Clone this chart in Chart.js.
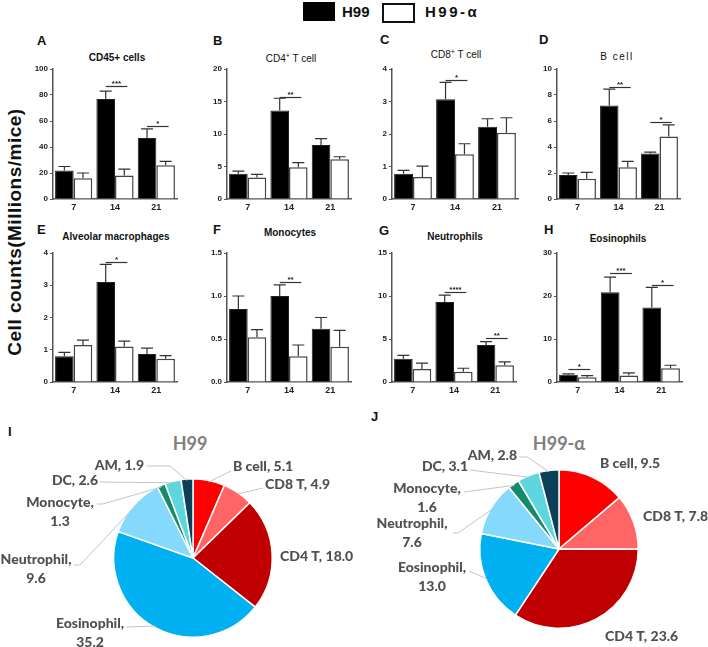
<!DOCTYPE html>
<html>
<head>
<meta charset="utf-8">
<script src="https://cdn.jsdelivr.net/npm/chart.js@4.4.0/dist/chart.umd.min.js"></script>
<style>
  body { margin:0; background:#fff; }
  #wrap { position:relative; width:708px; height:647px; overflow:hidden; font-family:Arial, "Liberation Sans", sans-serif; }
  canvas { position:absolute; }
  .t { position:absolute; white-space:nowrap; color:#111; }
  .let { font-weight:bold; font-size:13px; }
  .ttl { font-size:10px; transform:translateX(-50%); }
  .b { font-weight:bold; }
</style>
</head>
<body>
<div id="wrap">
  <!-- legenda -->
  <div style="position:absolute;left:303px;top:2px;width:32px;height:19px;background:#000"></div>
  <div class="t b" style="left:342px;top:3px;font-size:15px">H99</div>
  <div style="position:absolute;left:382px;top:3px;width:29px;height:16px;border:2px solid #111;background:#fff"></div>
  <div class="t b" style="left:425px;top:3px;font-size:15px;letter-spacing:2.5px">H99-α</div>

  <div class="t b" style="left:15px;top:232px;font-size:19px;letter-spacing:0.5px;transform:translate(-50%,-50%) rotate(-90deg)">Cell counts(Millions/mice)</div>

  <div class="t let" style="left:37px;top:33px">A</div>
  <div class="t let" style="left:213px;top:33px">B</div>
  <div class="t let" style="left:380px;top:32px">C</div>
  <div class="t let" style="left:539px;top:32px">D</div>
  <div class="t let" style="left:37px;top:222px">E</div>
  <div class="t let" style="left:213px;top:222px">F</div>
  <div class="t let" style="left:379px;top:223px">G</div>
  <div class="t let" style="left:544px;top:222px">H</div>

  <div class="t ttl b" style="left:117px;top:52px">CD45+ cells</div>
  <div class="t ttl" style="left:291px;top:52px">CD4<sup style="font-size:7px">+</sup> T cell</div>
  <div class="t ttl" style="left:456px;top:48px">CD8<sup style="font-size:7px">+</sup> T cell</div>
  <div class="t ttl" style="left:617px;top:51px;letter-spacing:1.5px">B cell</div>
  <div class="t ttl b" style="left:116px;top:231px">Alveolar macrophages</div>
  <div class="t ttl b" style="left:290px;top:227px">Monocytes</div>
  <div class="t ttl b" style="left:455px;top:231px">Neutrophils</div>
  <div class="t ttl b" style="left:618px;top:233px">Eosinophils</div>

  <div class="t let" style="left:8px;top:424px">I</div>
  <div class="t let" style="left:371px;top:409px">J</div>
  <div class="t" style="left:190px;top:443px;transform:translate(-50%,-50%);font-family:Lato;font-weight:bold;font-size:18px;color:#7f7f7f">H99</div>
  <div class="t" style="left:559px;top:443px;transform:translate(-50%,-50%);font-family:Lato;font-weight:bold;font-size:18px;color:#7f7f7f">H99-α</div>
</div>

<script>
// giorni post infezione
var giorni = ["7", "14", "21"];

// A - CD45+
var cd45H99 = [22, 77, 47], cd45H99Err = [3, 6, 7];
var cd45Alfa = [16, 18, 26], cd45AlfaErr = [4, 5, 3];
var cd45Sig = ["", "***", "*"], cd45SigY = [0, 87, 56];
// B - CD4 T
var cd4H99 = [3.9, 13.6, 8.3], cd4H99Err = [0.4, 1.9, 1.0];
var cd4Alfa = [3.3, 4.9, 6.1], cd4AlfaErr = [0.5, 0.7, 0.4];
var cd4Sig = ["", "**", ""], cd4SigY = [0, 15.7, 0];
// C - CD8 T
var cd8H99 = [0.78, 3.07, 2.22], cd8H99Err = [0.1, 0.52, 0.25];
var cd8Alfa = [0.68, 1.38, 2.04], cd8AlfaErr = [0.33, 0.32, 0.46];
var cd8Sig = ["", "*", ""], cd8SigY = [0, 3.66, 0];
// D - B cell
var bH99 = [1.85, 7.2, 3.5], bH99Err = [0.15, 1.25, 0.1];
var bAlfa = [1.55, 2.45, 4.8], bAlfaErr = [0.5, 0.45, 0.9];
var bSig = ["", "**", "*"], bSigY = [0, 8.6, 5.9];
// E - macrofagi alveolari
var amH99 = [0.8, 3.1, 0.87], amH99Err = [0.12, 0.55, 0.18];
var amAlfa = [1.15, 1.1, 0.72], amAlfaErr = [0.15, 0.17, 0.1];
var amSig = ["", "*", ""], amSigY = [0, 3.72, 0];
// F - monociti
var monoH99 = [0.85, 1.0, 0.62], monoH99Err = [0.15, 0.13, 0.13];
var monoAlfa = [0.52, 0.3, 0.41], monoAlfaErr = [0.09, 0.13, 0.19];
var monoSig = ["", "**", ""], monoSigY = [0, 1.16, 0];
// G - neutrofili
var neuH99 = [2.7, 9.3, 4.3], neuH99Err = [0.4, 0.8, 0.4];
var neuAlfa = [1.5, 1.2, 1.95], neuAlfaErr = [0.7, 0.4, 0.4];
var neuSig = ["", "****", "**"], neuSigY = [0, 10.5, 5.1];
// H - eosinofili
var eosH99 = [1.7, 20.9, 17.3], eosH99Err = [0.2, 3.5, 4.7];
var eosAlfa = [1.1, 1.5, 3.2], eosAlfaErr = [0.4, 0.6, 0.7];
var eosSig = ["*", "***", "*"], eosSigY = [3.0, 25.3, 22.5];

// assi y: massimo e passo
var assiMax = [100, 20, 4, 10, 4, 1.5, 15, 30];
var assiPasso = [20, 5, 1, 2, 1, 0.5, 5, 10];

// torte
var popolazioni = ["B cell", "CD8 T", "CD4 T", "Eosinophil", "Neutrophil", "Monocyte", "DC", "AM"];
var torta99 = [5.1, 4.9, 18.0, 35.2, 9.6, 1.3, 2.6, 1.9];
var tortaAlfa = [9.5, 7.8, 23.6, 13.0, 7.6, 1.6, 3.1, 2.8];
var coloriTorta = ["#ff0000", "#ff6565", "#c00000", "#00b0f0", "#84d9fc", "#178a6a", "#5dd6e0", "#0b4058"];

var _wrap = document.getElementById("wrap");

function nuovoCanvas(x, y, w, h){
    let c = document.createElement("canvas");
    c.width = w; c.height = h;
    c.style.left = x + "px"; c.style.top = y + "px";
    c.style.width = w + "px"; c.style.height = h + "px";
    _wrap.appendChild(c);
    return c;
}

// barre d'errore + asterischi
var pluginErrori = {
    id: "errori",
    afterDatasetsDraw(chart){
        let ctx = chart.ctx, ys = chart.scales.y;
        ctx.save();
        ctx.strokeStyle = "#333";
        ctx.lineWidth = 1.2;
        chart.data.datasets.forEach((ds, i) => {
            let meta = chart.getDatasetMeta(i);
            meta.data.forEach((bar, j) => {
                let yE = ys.getPixelForValue(ds.data[j] + ds.errori[j]);
                ctx.beginPath();
                ctx.moveTo(bar.x, bar.y);
                ctx.lineTo(bar.x, yE);
                ctx.moveTo(bar.x - 6, yE);
                ctx.lineTo(bar.x + 6, yE);
                ctx.stroke();
            });
        });
        let sig = chart.options.plugins.errori.sig, sigY = chart.options.plugins.errori.sigY;
        let m0 = chart.getDatasetMeta(0), m1 = chart.getDatasetMeta(1);
        ctx.fillStyle = "#222";
        ctx.font = "bold 8px Arial";
        ctx.textAlign = "center";
        ctx.textBaseline = "bottom";
        for(let k = 0; k < sig.length; k++){
            if(sig[k] == "") continue;
            let x1 = m0.data[k].x, x2 = m1.data[k].x + 3;
            let y = Math.round(ys.getPixelForValue(sigY[k])) + 0.5;
            ctx.beginPath();
            ctx.moveTo(x1, y);
            ctx.lineTo(x2, y);
            ctx.stroke();
            ctx.fillText(sig[k], (x1 + x2) / 2, y + 1);
        }
        ctx.restore();
    }
};

function grafico(n, ax, dx, yTop, y0, h99, h99Err, alfa, alfaErr, sig, sigY){
    let c = nuovoCanvas(ax - 28, yTop - 8, dx - ax + 34, y0 - yTop + 26);
    new Chart(c, {
        type: "bar",
        data: {
            labels: giorni,
            datasets: [
                { data: h99, errori: h99Err, backgroundColor: "#000", borderColor: "#222", borderWidth: 1 },
                { data: alfa, errori: alfaErr, backgroundColor: "#fff", borderColor: "#444", borderWidth: 1.5 }
            ]
        },
        options: {
            responsive: false,
            animation: false,
            layout: { padding: { top: 8, right: 6, left: 0, bottom: 0 } },
            datasets: { bar: { categoryPercentage: 0.9, barPercentage: 1.0 } },
            plugins: { legend: { display: false }, tooltip: { enabled: false }, errori: { sig: sig, sigY: sigY } },
            scales: {
                x: {
                    grid: { display: false, drawTicks: false },
                    border: { color: "#555", width: 1.5 },
                    ticks: { color: "#222", font: { family: "Arial", size: 9, weight: "bold" }, padding: 3 },
                    afterFit(s){ s.height = 18; }
                },
                y: {
                    min: 0, max: assiMax[n],
                    grid: { drawOnChartArea: false, drawTicks: true, tickLength: 3, color: "#555", lineWidth: 1 },
                    border: { color: "#555", width: 1.5 },
                    ticks: { stepSize: assiPasso[n], color: "#222", font: { family: "Arial", size: 8, weight: "bold" }, padding: 2,
                        callback: v => (assiPasso[n] < 1 ? v.toFixed(1) : v) },
                    afterFit(s){ s.width = 28; }
                }
            }
        },
        plugins: [pluginErrori]
    });
}

grafico(0, 53, 177, 69, 199, cd45H99, cd45H99Err, cd45Alfa, cd45AlfaErr, cd45Sig, cd45SigY);
grafico(1, 227, 351, 69, 199, cd4H99, cd4H99Err, cd4Alfa, cd4AlfaErr, cd4Sig, cd4SigY);
grafico(2, 392, 518, 69, 199, cd8H99, cd8H99Err, cd8Alfa, cd8AlfaErr, cd8Sig, cd8SigY);
grafico(3, 557, 680, 69, 199, bH99, bH99Err, bAlfa, bAlfaErr, bSig, bSigY);
grafico(4, 53, 177, 253, 382, amH99, amH99Err, amAlfa, amAlfaErr, amSig, amSigY);
grafico(5, 227, 351, 253, 382, monoH99, monoH99Err, monoAlfa, monoAlfaErr, monoSig, monoSigY);
grafico(6, 392, 516, 253, 382, neuH99, neuH99Err, neuAlfa, neuAlfaErr, neuSig, neuSigY);
grafico(7, 557, 682, 253, 382, eosH99, eosH99Err, eosAlfa, eosAlfaErr, eosSig, eosSigY);

// etichette torte: posizione testo (pagina), allineamento, inizio linea guida, gomito
var etichette99 = [
    { x: 233, y: 466, al: "left", da: [231, 471] },
    { x: 265, y: 484, al: "left", da: [263, 488] },
    { x: 280, y: 556, al: "left" },
    { x: 90, y: 623, al: "center", due: true, da: [126, 627] },
    { x: 36, y: 559, al: "center", due: true, da: [74, 565], gomito: 80 },
    { x: 60, y: 502, al: "center", due: true, da: [97, 504], gomito: 103 },
    { x: 98, y: 480, al: "right", da: [100, 482] },
    { x: 144, y: 465, al: "right", da: [147, 466], gomito: 170 }
];
var etichetteAlfa = [
    { x: 600, y: 463, al: "left" },
    { x: 643, y: 516, al: "left" },
    { x: 605, y: 636, al: "left" },
    { x: 432, y: 567, al: "center", due: true, da: [469, 571] },
    { x: 412, y: 523, al: "center", due: true, da: [453, 533], gomito: 458 },
    { x: 427, y: 488, al: "center", due: true, da: [464, 492] },
    { x: 468, y: 466, al: "right", da: [470, 470] },
    { x: 517, y: 455, al: "right", da: [519, 457], gomito: 527 }
];

var pluginEtichette = {
    id: "etichette",
    afterDraw(chart){
        let o = chart.options.plugins.etichette;
        let ctx = chart.ctx, meta = chart.getDatasetMeta(0);
        let valori = chart.data.datasets[0].data;
        ctx.save();
        o.lista.forEach((e, i) => {
            let arc = meta.data[i];
            if(e.da){
                let a = (arc.startAngle + arc.endAngle) / 2;
                let px = arc.x + Math.cos(a) * arc.outerRadius * 0.98;
                let py = arc.y + Math.sin(a) * arc.outerRadius * 0.98;
                ctx.strokeStyle = "#c4c4c4";
                ctx.lineWidth = 1;
                ctx.beginPath();
                ctx.moveTo(e.da[0] - o.ox, e.da[1] - o.oy);
                if(e.gomito) ctx.lineTo(e.gomito - o.ox, e.da[1] - o.oy);
                ctx.lineTo(px, py);
                ctx.stroke();
            }
            ctx.fillStyle = "#505050";
            ctx.font = "900 14px Lato";
            ctx.textAlign = e.al;
            ctx.textBaseline = "middle";
            let v = valori[i].toFixed(1);
            if(e.due){
                ctx.fillText(chart.data.labels[i] + ",", e.x - o.ox, e.y - o.oy);
                ctx.fillText(v, e.x - o.ox, e.y + 19 - o.oy);
            } else {
                ctx.fillText(chart.data.labels[i] + ", " + v, e.x - o.ox, e.y - o.oy);
            }
        });
        ctx.restore();
    }
};

function torta(x, y, w, h, pad, valori, lista){
    let c = nuovoCanvas(x, y, w, h);
    new Chart(c, {
        type: "pie",
        data: {
            labels: popolazioni,
            datasets: [{ data: valori, backgroundColor: coloriTorta, borderColor: "#fff", borderWidth: 1.5 }]
        },
        options: {
            responsive: false,
            animation: false,
            layout: { padding: pad },
            plugins: { legend: { display: false }, tooltip: { enabled: false },
                etichette: { lista: lista, ox: x, oy: y } }
        },
        plugins: [pluginEtichette]
    });
}

torta(0, 425, 354, 222, { left: 113, right: 81, top: 53, bottom: 9 }, torta99, etichette99);
torta(354, 425, 354, 222, { left: 125, right: 69, top: 44, bottom: 18 }, tortaAlfa, etichetteAlfa);
</script>
</body>
</html>
